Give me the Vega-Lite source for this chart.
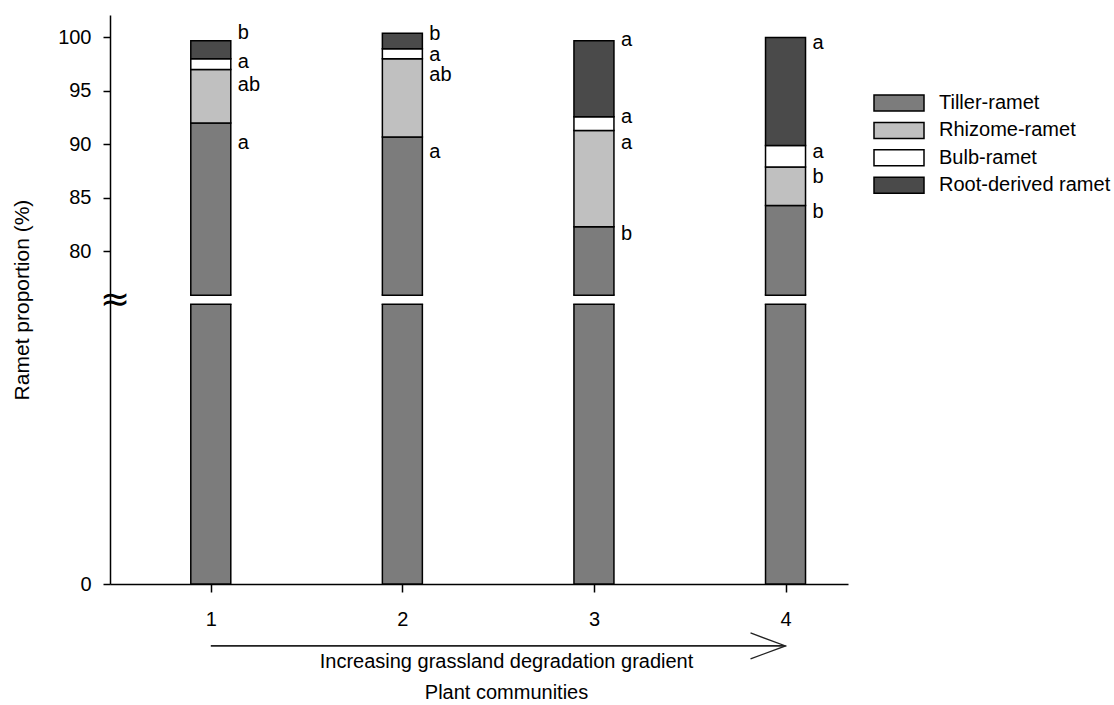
{
  "$schema": "https://vega.github.io/schema/vega-lite/v6.json",
  "width": 738,
  "height": 569,
  "autosize": {"type": "none"},
  "padding": {"left": 110, "top": 15, "right": 266, "bottom": 121},
  "background": "white",
  "config": {
    "font": "Liberation Sans",
    "view": {"stroke": null},
    "axis": {"grid": false, "domainColor": "black", "tickColor": "black", "labelColor": "black", "titleColor": "black", "domainWidth": 1.5, "tickWidth": 1.5, "labelFontSize": 20, "titleFontSize": 20, "titleFontWeight": "normal"}
  },
  "datasets": {
    "ramets": [
      {"community": 1, "type": "Tiller-ramet", "proportion": 92.0},
      {"community": 1, "type": "Rhizome-ramet", "proportion": 5.0},
      {"community": 1, "type": "Bulb-ramet", "proportion": 1.0},
      {"community": 1, "type": "Root-derived ramet", "proportion": 1.7},
      {"community": 2, "type": "Tiller-ramet", "proportion": 90.7},
      {"community": 2, "type": "Rhizome-ramet", "proportion": 7.3},
      {"community": 2, "type": "Bulb-ramet", "proportion": 0.95},
      {"community": 2, "type": "Root-derived ramet", "proportion": 1.45},
      {"community": 3, "type": "Tiller-ramet", "proportion": 82.3},
      {"community": 3, "type": "Rhizome-ramet", "proportion": 9.0},
      {"community": 3, "type": "Bulb-ramet", "proportion": 1.3},
      {"community": 3, "type": "Root-derived ramet", "proportion": 7.1},
      {"community": 4, "type": "Tiller-ramet", "proportion": 84.3},
      {"community": 4, "type": "Rhizome-ramet", "proportion": 3.6},
      {"community": 4, "type": "Bulb-ramet", "proportion": 2.0},
      {"community": 4, "type": "Root-derived ramet", "proportion": 10.1}
    ],
    "letters": [
      {"community": 1, "type": "Root-derived ramet", "letter": "b", "pos": 100.45},
      {"community": 1, "type": "Bulb-ramet", "letter": "a", "pos": 97.7},
      {"community": 1, "type": "Rhizome-ramet", "letter": "ab", "pos": 95.55},
      {"community": 1, "type": "Tiller-ramet", "letter": "a", "pos": 90.15},
      {"community": 2, "type": "Root-derived ramet", "letter": "b", "pos": 100.3},
      {"community": 2, "type": "Bulb-ramet", "letter": "a", "pos": 98.4},
      {"community": 2, "type": "Rhizome-ramet", "letter": "ab", "pos": 96.45},
      {"community": 2, "type": "Tiller-ramet", "letter": "a", "pos": 89.3},
      {"community": 3, "type": "Root-derived ramet", "letter": "a", "pos": 99.8},
      {"community": 3, "type": "Bulb-ramet", "letter": "a", "pos": 92.6},
      {"community": 3, "type": "Rhizome-ramet", "letter": "a", "pos": 90.15},
      {"community": 3, "type": "Tiller-ramet", "letter": "b", "pos": 81.6},
      {"community": 4, "type": "Root-derived ramet", "letter": "a", "pos": 99.5},
      {"community": 4, "type": "Bulb-ramet", "letter": "a", "pos": 89.3},
      {"community": 4, "type": "Rhizome-ramet", "letter": "b", "pos": 86.95},
      {"community": 4, "type": "Tiller-ramet", "letter": "b", "pos": 83.7}
    ]
  },
  "layer": [
    {
      "data": {"name": "ramets"},
      "transform": [{"calculate": "indexof(['Tiller-ramet', 'Rhizome-ramet', 'Bulb-ramet', 'Root-derived ramet'], datum.type)", "as": "stackOrder"}],
      "mark": {"type": "bar", "size": 40, "stroke": "black", "strokeWidth": 1.5},
      "encoding": {
        "x": {
          "field": "community", "type": "quantitative",
          "scale": {"domain": [0.5, 4.3], "nice": false, "zero": false},
          "axis": {
            "values": [1, 2, 3, 4], "format": "d", "tickSize": 8, "labelPadding": 17,
            "title": ["Increasing grassland degradation gradient", "Plant communities"],
            "titleX": 396, "titleY": 67, "titleBaseline": "top", "titleAlign": "center", "titleLineHeight": 31
          }
        },
        "y": {
          "field": "proportion", "type": "quantitative", "stack": "zero",
          "scale": {"domain": [0, 75, 75.9, 102.1], "range": [569, 289.3, 280.3, 0], "nice": false, "zero": false},
          "axis": {
            "values": [0, 80, 85, 90, 95, 100], "tickSize": 7, "labelPadding": 12,
            "title": "Ramet proportion (%)", "titleFontSize": 21, "titleX": -88, "titleY": 284.5, "titleAngle": -90, "titleBaseline": "middle", "titleAlign": "center"
          }
        },
        "order": {"field": "stackOrder", "type": "quantitative"},
        "fill": {
          "field": "type", "type": "nominal",
          "sort": ["Tiller-ramet", "Rhizome-ramet", "Bulb-ramet", "Root-derived ramet"],
          "scale": {"domain": ["Tiller-ramet", "Rhizome-ramet", "Bulb-ramet", "Root-derived ramet"], "range": ["#7c7c7c", "#c0c0c0", "#ffffff", "#4a4a4a"]},
          "legend": {
            "orient": "none", "legendX": 775.5, "legendY": 74.5, "title": null, "padding": 0,
            "symbolType": "M -2 -0.64 L 2 -0.64 L 2 0.64 L -2 0.64 Z", "symbolSize": 625,
            "symbolStrokeColor": "black", "symbolStrokeWidth": 1.5, "symbolOpacity": 1,
            "labelFontSize": 20, "labelColor": "black", "labelOffset": 26.5, "rowPadding": 2.4, "labelLimit": 0
          }
        }
      }
    },
    {
      "data": {"name": "ramets"},
      "transform": [{"filter": "datum.type === 'Tiller-ramet'"}],
      "mark": {"type": "bar", "size": 46, "fill": "white", "strokeWidth": 0},
      "encoding": {
        "x": {"field": "community", "type": "quantitative"},
        "y": {"datum": 75, "type": "quantitative"},
        "y2": {"datum": 75.9}
      }
    },
    {
      "data": {"name": "ramets"},
      "transform": [{"filter": "datum.type === 'Tiller-ramet'"}],
      "mark": {"type": "tick", "orient": "horizontal", "size": 41.5, "thickness": 1.5, "color": "black", "opacity": 1},
      "encoding": {
        "x": {"field": "community", "type": "quantitative"},
        "y": {"datum": 75, "type": "quantitative"}
      }
    },
    {
      "data": {"name": "ramets"},
      "transform": [{"filter": "datum.type === 'Tiller-ramet'"}],
      "mark": {"type": "tick", "orient": "horizontal", "size": 41.5, "thickness": 1.5, "color": "black", "opacity": 1},
      "encoding": {
        "x": {"field": "community", "type": "quantitative"},
        "y": {"datum": 75.9, "type": "quantitative"}
      }
    },
    {
      "data": {"name": "letters"},
      "mark": {"type": "text", "align": "left", "baseline": "middle", "dx": 27, "fontSize": 20, "color": "black"},
      "encoding": {
        "x": {"field": "community", "type": "quantitative"},
        "y": {"field": "pos", "type": "quantitative"},
        "text": {"field": "letter"}
      }
    },
    {
      "data": {"values": [{"note": "Increasing grassland degradation gradient"}]},
      "mark": {"type": "rule", "color": "#222222", "strokeWidth": 1.8},
      "encoding": {
        "x": {"datum": 1, "type": "quantitative"},
        "x2": {"datum": 4},
        "y": {"datum": -16.6, "type": "quantitative"}
      }
    },
    {
      "data": {"values": [{"note": "Increasing grassland degradation gradient"}]},
      "mark": {"type": "point", "shape": "M -1 -0.37 L 0 0 L -1 0.37", "size": 4900, "filled": false, "stroke": "#222222", "strokeWidth": 1.3, "opacity": 1},
      "encoding": {
        "x": {"datum": 4, "type": "quantitative"},
        "y": {"datum": -16.6, "type": "quantitative"}
      }
    },
    {
      "data": {"values": [{"note": "axis break"}]},
      "mark": {"type": "text", "text": "≈", "font": "DejaVu Sans", "fontSize": 36, "align": "center", "baseline": "middle", "color": "black"},
      "encoding": {
        "x": {"datum": 0.5, "type": "quantitative"},
        "y": {"datum": 75.45, "type": "quantitative"}
      }
    }
  ]
}
